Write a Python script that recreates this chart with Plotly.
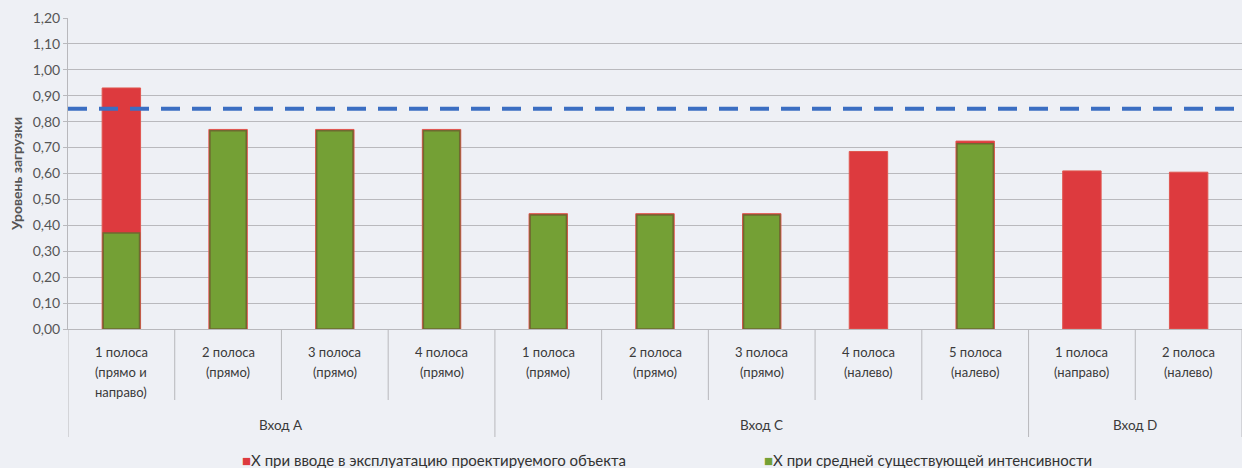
import plotly.graph_objects as go

categories = ["1 полоса\n(прямо и\nнаправо)", "2 полоса\n(прямо)", "3 полоса\n(прямо)", "4 полоса\n(прямо)",
              "1 полоса\n(прямо)", "2 полоса\n(прямо)", "3 полоса\n(прямо)", "4 полоса\n(налево)",
              "5 полоса\n(налево)", "1 полоса\n(направо)", "2 полоса\n(налево)"]
groups = ["Вход А", "Вход С", "Вход D"]
group_sizes = [4, 5, 2]
x_new = [0.93, 0.77, 0.77, 0.77, 0.445, 0.445, 0.445, 0.685, 0.725, 0.61, 0.605]
x_avg = [0.37, 0.765, 0.765, 0.765, 0.44, 0.44, 0.44, 0, 0.715, 0, 0]
threshold = 0.85
name_new = "X при вводе в эксплуатацию проектируемого объекта"
name_avg = "X при средней существующей интенсивности"
y_title = "Уровень загрузки"

RED = "#dd3a3e"
GREEN = "#74a035"
BG = "#eef0f5"
FONT = "Lato"

xs = list(range(len(categories)))
fig = go.Figure()
fig.add_trace(go.Bar(x=xs, y=x_new, name=name_new, width=0.36,
                     marker=dict(color=RED, line=dict(color="#e0564f", width=1))))
fig.add_trace(go.Bar(x=xs, y=[v if v > 0 else None for v in x_avg], name=name_avg, width=0.34,
                     marker=dict(color=GREEN, line=dict(color="#6e6a30", width=1.5))))

shapes = []
shapes.append(dict(type="line", xref="paper", yref="y", x0=0, x1=1, y0=threshold, y1=threshold,
                   line=dict(color="#3b6ec2", width=4, dash="19px,12px"), layer="above"))
bounds = [-0.5]
acc = -0.5
for g in group_sizes:
    acc += g
    bounds.append(acc)
for i in range(len(categories) + 1):
    xv = i - 0.5
    is_group = xv in bounds
    shapes.append(dict(type="line", xref="x", yref="paper", x0=xv, x1=xv, y0=0,
                       y1=-(108 if is_group else 71) / 311,
                       line=dict(color="#b8b8bc", width=1)))

annotations = []
for i, lab in enumerate(categories):
    for j, line in enumerate(lab.split("\n")):
        annotations.append(dict(x=i, y=0, xref="x", yref="paper", text=line, showarrow=False,
                                yanchor="middle", yshift=-(23 + 20 * j),
                                font=dict(family=FONT, size=13, color="#3a3a3a")))
start = -0.5
for g, n in zip(groups, group_sizes):
    annotations.append(dict(x=start + n / 2, y=0, xref="x", yref="paper", text=g, showarrow=False,
                            yanchor="middle", yshift=-96,
                            font=dict(family=FONT, size=13.5, color="#3a3a3a")))
    start += n
for px, col, name in [(240, RED, name_new), (762, GREEN, name_avg)]:
    annotations.append(dict(x=(px - 68) / 1174, y=0, xref="paper", yref="paper", xanchor="left",
                            showarrow=False, text=f"<span style='color:{col}'>■</span>{name}",
                            yanchor="middle", yshift=-131,
                            font=dict(family=FONT, size=15, color="#333")))

fig.update_layout(
    width=1242, height=468, margin=dict(l=68, r=0, t=18, b=139),
    paper_bgcolor=BG, plot_bgcolor=BG, barmode="overlay", showlegend=False,
    separators=", ", shapes=shapes, annotations=annotations,
    font=dict(family=FONT),
    xaxis=dict(range=[-0.5, len(categories) - 0.5], showticklabels=False, showgrid=False,
               zeroline=False, showline=True, linecolor="#b8b8bc"),
    yaxis=dict(range=[0, 1.2], dtick=0.1, tickformat=".2f", showgrid=True, gridcolor="#b9b9bd",
               gridwidth=1, zeroline=False, showline=True, linecolor="#b8b8bc",
               ticks="outside", ticklen=4, tickcolor="#b9b9bd",
               tickfont=dict(family=FONT, size=14, color="#555"),
               title=dict(text="<b>" + y_title + "</b>", standoff=6,
                          font=dict(family=FONT, size=14, color="#555"))),
)
fig.write_html("out.html")
